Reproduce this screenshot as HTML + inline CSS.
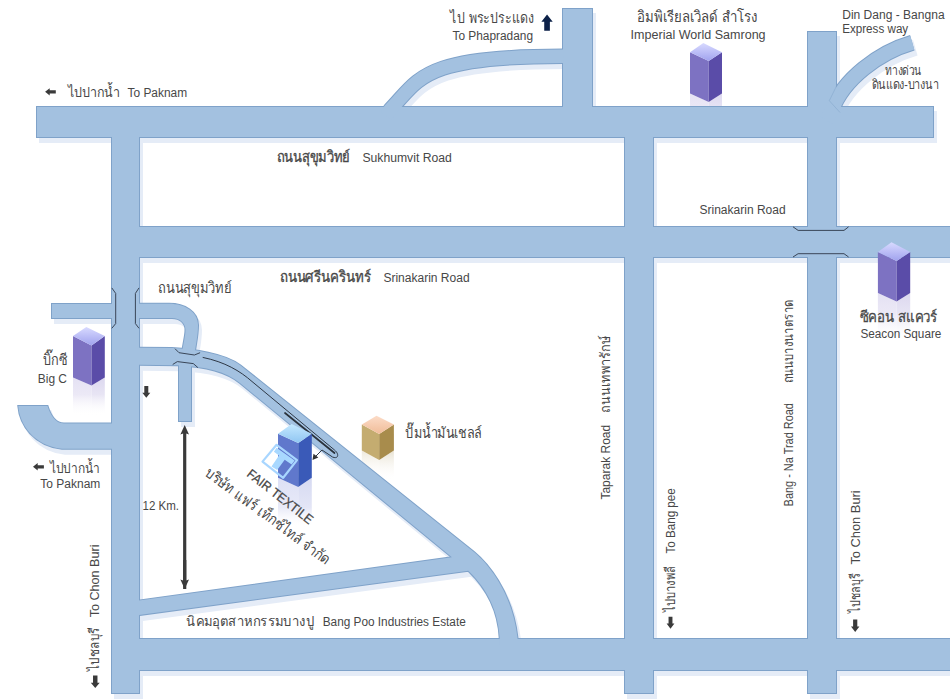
<!DOCTYPE html>
<html><head><meta charset="utf-8"><style>
html,body{margin:0;padding:0;background:#fff;overflow:hidden;}
svg{display:block;}
text{font-family:"Liberation Sans",sans-serif;fill:#474747;}
</style></head><body>
<svg width="950" height="700" viewBox="0 0 950 700">
<defs>
<linearGradient id="pt" x1="0" y1="0" x2="0" y2="1"><stop offset="0" stop-color="#d8daff"/><stop offset="1" stop-color="#a0a2ee"/></linearGradient>
<linearGradient id="pit" x1="0" y1="0" x2="0" y2="1"><stop offset="0" stop-color="#d8daff"/><stop offset="1" stop-color="#a0a2ee"/></linearGradient>
<linearGradient id="pr" x1="0" y1="0" x2="0" y2="1"><stop offset="0" stop-color="#e4e1f3"/><stop offset="0.45" stop-color="#ece9f6"/><stop offset="1" stop-color="#ffffff" stop-opacity="0"/></linearGradient>
<linearGradient id="pr2" x1="0" y1="0" x2="0" y2="1"><stop offset="0" stop-color="#dcd8ef"/><stop offset="0.45" stop-color="#e8e5f4"/><stop offset="1" stop-color="#ffffff" stop-opacity="0"/></linearGradient>
<linearGradient id="pir" x1="0" y1="0" x2="0" y2="1"><stop offset="0" stop-color="#e6e3f4"/><stop offset="1" stop-color="#ebe8f6"/></linearGradient>
<linearGradient id="pir2" x1="0" y1="0" x2="0" y2="1"><stop offset="0" stop-color="#dedaf0"/><stop offset="1" stop-color="#e6e3f4"/></linearGradient>
<linearGradient id="bt" x1="0" y1="0" x2="0" y2="1"><stop offset="0" stop-color="#c4e8ff"/><stop offset="1" stop-color="#90c6f2"/></linearGradient>
<linearGradient id="br" x1="0" y1="0" x2="0" y2="1"><stop offset="0" stop-color="#dde0f5"/><stop offset="0.6" stop-color="#e8eaf8"/><stop offset="1" stop-color="#ffffff" stop-opacity="0"/></linearGradient>
<linearGradient id="br2" x1="0" y1="0" x2="0" y2="1"><stop offset="0" stop-color="#d6daf2"/><stop offset="0.6" stop-color="#e4e6f6"/><stop offset="1" stop-color="#ffffff" stop-opacity="0"/></linearGradient>
<linearGradient id="st" x1="0" y1="0" x2="0" y2="1"><stop offset="0" stop-color="#fcdcc8"/><stop offset="1" stop-color="#f0bc98"/></linearGradient>
<linearGradient id="sr" x1="0" y1="0" x2="0" y2="1"><stop offset="0" stop-color="#eee9dc"/><stop offset="1" stop-color="#ffffff" stop-opacity="0"/></linearGradient>
<linearGradient id="sr2" x1="0" y1="0" x2="0" y2="1"><stop offset="0" stop-color="#e8e2d2"/><stop offset="1" stop-color="#ffffff" stop-opacity="0"/></linearGradient>
</defs>
<path d="M690 93.5 L708.7 102 L708.7 107.5 L690 107.5 Z" fill="url(#pir)"/><path d="M708.7 102 L722 93.5 L722 107.5 L708.7 107.5 Z" fill="url(#pir2)"/><path d="M73 377.6 L91.5 385.5 L91.5 415.6 L73 415.6 Z" fill="url(#pr)"/><path d="M91.5 385.5 L104.8 377.6 L104.8 415.6 L91.5 415.6 Z" fill="url(#pr2)"/><path d="M877.9 292.9 L896.6 301.5 L896.6 340.9 L877.9 340.9 Z" fill="url(#pr)"/><path d="M896.6 301.5 L910.2 292.9 L910.2 340.9 L896.6 340.9 Z" fill="url(#pr2)"/><path d="M278 477.7 L298.2 486.9 L298.2 527.7 L278 527.7 Z" fill="url(#br)"/><path d="M298.2 486.9 L311.8 477.7 L311.8 527.7 L298.2 527.7 Z" fill="url(#br2)"/><path d="M361.8 450.5 L379.2 460 L379.2 480.5 L361.8 480.5 Z" fill="url(#sr)"/><path d="M379.2 460 L393.9 450.5 L393.9 480.5 L379.2 480.5 Z" fill="url(#sr2)"/>
<g transform="translate(3,5)" fill="#e5ecf7"><rect x="37" y="107" width="896" height="30" fill="#e5ecf7" stroke="#e5ecf7" stroke-width="2"/>
<rect x="112" y="107" width="27" height="586" fill="#e5ecf7" stroke="#e5ecf7" stroke-width="2"/>
<rect x="625" y="107" width="28" height="586" fill="#e5ecf7" stroke="#e5ecf7" stroke-width="2"/>
<rect x="808" y="32" width="28" height="661" fill="#e5ecf7" stroke="#e5ecf7" stroke-width="2"/>
<rect x="563" y="9" width="29" height="98" fill="#e5ecf7" stroke="#e5ecf7" stroke-width="2"/>
<rect x="112" y="227" width="840" height="30" fill="#e5ecf7" stroke="#e5ecf7" stroke-width="2"/>
<rect x="112" y="639" width="840" height="31" fill="#e5ecf7" stroke="#e5ecf7" stroke-width="2"/>
<path d="M386 115.8 L390.4 109.3 C419.7 79.2 420.9 56.1 564 56.3" fill="none" stroke="#e5ecf7" stroke-width="15.4"/>
<path d="M826 120 L832 110 C843.14 79.26 878.83 52.54 912.3 42.8" fill="none" stroke="#e5ecf7" stroke-width="16"/>
<path d="M139 347.7 L172 348 C192 349 225.5 353.5 240.5 365.5 L474.3 552.3 C486 562 512 590 517.5 638 L517.5 645 L499.7 645 L499.7 638 C498 605 482 584 468.3 570.8 L139 615 L139 600.6 L451.9 557.3 L240 383 C226 371.5 205 366.5 177.3 365.3 L139 364.7 Z" fill="#e5ecf7" stroke="#e5ecf7" stroke-width="2"/>
<rect x="52" y="304" width="61" height="14" fill="#e5ecf7" stroke="#e5ecf7" stroke-width="2"/>
<path d="M138 303.7 L169 303.7 C185 303.7 198 312 198 325 C198 335 196 343 194.5 354 L181.9 354 C183.5 342 185.5 336 185.5 330 C185.5 323 180 318 172 318 L138 318 Z" fill="#e5ecf7" stroke="#e5ecf7" stroke-width="2"/>
<rect x="179" y="360" width="12" height="61" fill="#e5ecf7" stroke="#e5ecf7" stroke-width="2"/>
<path d="M18.3 406 L47.5 406 C50 414 55 423.5 64 423.5 L113 423.5 L113 448.8 L62 448.8 C34 445.6 19.8 425 18.3 406 Z" fill="#e5ecf7" stroke="#e5ecf7" stroke-width="2"/></g>
<g><rect x="37" y="107" width="896" height="30" fill="#7fa2c9" stroke="#7fa2c9" stroke-width="2"/>
<rect x="112" y="107" width="27" height="586" fill="#7fa2c9" stroke="#7fa2c9" stroke-width="2"/>
<rect x="625" y="107" width="28" height="586" fill="#7fa2c9" stroke="#7fa2c9" stroke-width="2"/>
<rect x="808" y="32" width="28" height="661" fill="#7fa2c9" stroke="#7fa2c9" stroke-width="2"/>
<rect x="563" y="9" width="29" height="98" fill="#7fa2c9" stroke="#7fa2c9" stroke-width="2"/>
<rect x="112" y="227" width="840" height="30" fill="#7fa2c9" stroke="#7fa2c9" stroke-width="2"/>
<rect x="112" y="639" width="840" height="31" fill="#7fa2c9" stroke="#7fa2c9" stroke-width="2"/>
<path d="M386 115.8 L390.4 109.3 C419.7 79.2 420.9 56.1 564 56.3" fill="none" stroke="#7fa2c9" stroke-width="15.4"/>
<path d="M826 120 L832 110 C843.14 79.26 878.83 52.54 912.3 42.8" fill="none" stroke="#7fa2c9" stroke-width="16"/>
<path d="M139 347.7 L172 348 C192 349 225.5 353.5 240.5 365.5 L474.3 552.3 C486 562 512 590 517.5 638 L517.5 645 L499.7 645 L499.7 638 C498 605 482 584 468.3 570.8 L139 615 L139 600.6 L451.9 557.3 L240 383 C226 371.5 205 366.5 177.3 365.3 L139 364.7 Z" fill="#7fa2c9" stroke="#7fa2c9" stroke-width="2"/>
<rect x="52" y="304" width="61" height="14" fill="#7fa2c9" stroke="#7fa2c9" stroke-width="2"/>
<path d="M138 303.7 L169 303.7 C185 303.7 198 312 198 325 C198 335 196 343 194.5 354 L181.9 354 C183.5 342 185.5 336 185.5 330 C185.5 323 180 318 172 318 L138 318 Z" fill="#7fa2c9" stroke="#7fa2c9" stroke-width="2"/>
<rect x="179" y="360" width="12" height="61" fill="#7fa2c9" stroke="#7fa2c9" stroke-width="2"/>
<path d="M18.3 406 L47.5 406 C50 414 55 423.5 64 423.5 L113 423.5 L113 448.8 L62 448.8 C34 445.6 19.8 425 18.3 406 Z" fill="#7fa2c9" stroke="#7fa2c9" stroke-width="2"/></g>
<g fill="#a3c1e0"><rect x="37" y="107" width="896" height="30"/>
<rect x="112" y="107" width="27" height="586"/>
<rect x="625" y="107" width="28" height="586"/>
<rect x="808" y="32" width="28" height="661"/>
<rect x="563" y="9" width="29" height="98"/>
<rect x="112" y="227" width="840" height="30"/>
<rect x="112" y="639" width="840" height="31"/>
<path d="M386 115.8 L390.4 109.3 C419.7 79.2 420.9 56.1 564 56.3" fill="none" stroke="#a3c1e0" stroke-width="13.4"/>
<path d="M826 120 L832 110 C843.14 79.26 878.83 52.54 912.3 42.8" fill="none" stroke="#a3c1e0" stroke-width="14"/>
<path d="M139 347.7 L172 348 C192 349 225.5 353.5 240.5 365.5 L474.3 552.3 C486 562 512 590 517.5 638 L517.5 645 L499.7 645 L499.7 638 C498 605 482 584 468.3 570.8 L139 615 L139 600.6 L451.9 557.3 L240 383 C226 371.5 205 366.5 177.3 365.3 L139 364.7 Z"/>
<rect x="52" y="304" width="61" height="14"/>
<path d="M138 303.7 L169 303.7 C185 303.7 198 312 198 325 C198 335 196 343 194.5 354 L181.9 354 C183.5 342 185.5 336 185.5 330 C185.5 323 180 318 172 318 L138 318 Z"/>
<rect x="179" y="360" width="12" height="61"/>
<path d="M18.3 406 L47.5 406 C50 414 55 423.5 64 423.5 L113 423.5 L113 448.8 L62 448.8 C34 445.6 19.8 425 18.3 406 Z"/></g>
<g fill="none" stroke="#3a4658" stroke-width="1">
<path d="M111.8 287.9 L115.7 293.4 L115.7 323.6 L111.8 328.3"/>
<path d="M139 287.9 L135.4 293.4 L135.4 323.6 L139 328.3"/>
<path d="M175 348.7 L179 352.7 L194.4 355 L200.1 352.7"/>
<path d="M172.7 364.5 L177.3 361.6 L193.3 363.6 L197.9 367.6"/>
<path d="M793 226.8 L798.1 230.4 L844 230.4 L848.6 226.8"/>
<path d="M793 257 L798.1 253.7 L844 253.7 L848.6 257"/>
</g>
<path d="M202.7 357.4 C225 362 240 371 252 381.5 L334.5 450 C339.5 454 338.5 459.5 332.5 457 L322 450 L314 458" fill="none" stroke="#2e3846" stroke-width="1"/>
<path d="M836.8 85.4 L829.3 100.7 L840 112.5" fill="none" stroke="#7fa2c9" stroke-opacity="0.6" stroke-width="0.8"/>
<path d="M285 413 L334.5 453" fill="none" stroke="#2a323c" stroke-width="1.7" stroke-linecap="round"/>
<path d="M312.5 460 L313.5 453.8 L318.3 457.6 Z" fill="#333"/>
<g>
<path d="M690 52.3 L708.7 61 L708.7 102 L690 93.5 Z" fill="#7d72c2"/>
<path d="M708.7 61 L722 52.3 L722 93.5 L708.7 102 Z" fill="#5a4ca8"/>
<path d="M690 52.3 L703.3 43 L722 52.3 L708.7 61 Z" fill="url(#pit)"/>
</g><g>
<path d="M73 336 L91.5 345.4 L91.5 385.5 L73 377.6 Z" fill="#7d72c2"/>
<path d="M91.5 345.4 L104.8 336 L104.8 377.6 L91.5 385.5 Z" fill="#5a4ca8"/>
<path d="M73 336 L86.3 327 L104.8 336 L91.5 345.4 Z" fill="url(#pt)"/>
</g><g>
<path d="M877.9 252 L896.6 261 L896.6 301.5 L877.9 292.9 Z" fill="#7d72c2"/>
<path d="M896.6 261 L910.2 252 L910.2 292.9 L896.6 301.5 Z" fill="#5a4ca8"/>
<path d="M877.9 252 L891.5 242.3 L910.2 252 L896.6 261 Z" fill="url(#pt)"/>
</g><g>
<path d="M278 433.7 L298.2 442.9 L298.2 486.9 L278 477.7 Z" fill="#6078cc"/>
<path d="M298.2 442.9 L311.8 433.7 L311.8 477.7 L298.2 486.9 Z" fill="#3a5ab8"/>
<path d="M278 433.7 L291.6 424 L311.8 433.7 L298.2 442.9 Z" fill="url(#bt)"/>
</g><g>
<path d="M361.8 424.5 L379.2 434 L379.2 460 L361.8 450.5 Z" fill="#c4ac70"/>
<path d="M379.2 434 L393.9 424.5 L393.9 450.5 L379.2 460 Z" fill="#a88c4c"/>
<path d="M361.8 424.5 L376.5 415.8 L393.9 424.5 L379.2 434 Z" fill="url(#st)"/>
</g>
<g fill="none" stroke="#a8d6ff" stroke-width="2.2" stroke-linejoin="round">
<path d="M262.5 461.6 L276.6 444.8 L297 460.1 L283.2 477.8 Z"/>
</g>
<path d="M273.9 451.7 L276.6 447.8 L294.6 460.4 L291.6 464.6 L284.7 459.8 L277.2 470 L271.5 466.4 L279 455.5 Z" fill="#a8d8ff"/>
<path d="M184.7 425 L189 434.5 L186.3 433.5 L186.3 589 L183.1 589 L183.1 433.5 L180.4 434.5 Z" fill="#3a3a3a"/>
<path d="M184.7 589 L180.4 579.5 L183.1 580.5 L183.1 560 L186.3 560 L186.3 580.5 L189 579.5 Z" fill="#3a3a3a"/>
<path d="M547.05 14.6 L541.4 21.684 L544.2249999999999 21.684 L544.2249999999999 30.7 L549.875 30.7 L549.875 21.684 L552.7 21.684 Z" fill="#0c2148"/><path d="M45.1 91.80000000000001 L49.701 88.2 L49.701 90.144 L55.8 90.144 L55.8 93.45600000000002 L49.701 93.45600000000002 L49.701 95.4 Z" fill="#3a3a3a"/><path d="M33 466.85 L37.687 463.1 L37.687 465.125 L43.9 465.125 L43.9 468.57500000000005 L37.687 468.57500000000005 L37.687 470.6 Z" fill="#3a3a3a"/><path d="M146.3 397.7 L142.3 392.669 L144.3 392.669 L144.3 386 L148.3 386 L148.3 392.669 L150.3 392.669 Z" fill="#3a3a3a"/><path d="M95.25 688 L90.8 682.625 L93.025 682.625 L93.025 675.5 L97.475 675.5 L97.475 682.625 L99.7 682.625 Z" fill="#3a3a3a"/><path d="M670.5 628.8 L666.6 623.597 L668.55 623.597 L668.55 616.7 L672.45 616.7 L672.45 623.597 L674.4 623.597 Z" fill="#3a3a3a"/><path d="M855.2 632 L851 626.582 L853.1 626.582 L853.1 619.4 L857.3000000000001 619.4 L857.3000000000001 626.582 L859.4 626.582 Z" fill="#3a3a3a"/>
<text x="450.3" y="23.3" font-size="15" textLength="83.5" lengthAdjust="spacingAndGlyphs">ไป พระประแดง</text><text x="452.5" y="39.7" font-size="12" textLength="80.5" lengthAdjust="spacingAndGlyphs">To Phapradang</text><text x="637" y="22.3" font-size="15" textLength="120" lengthAdjust="spacingAndGlyphs">อิมพิเรียลเวิลด์ สำโรง</text><text x="630.6" y="39" font-size="12.5" textLength="135" lengthAdjust="spacingAndGlyphs">Imperial World Samrong</text><text x="842.2" y="18.9" font-size="12" textLength="102.4" lengthAdjust="spacingAndGlyphs">Din Dang - Bangna</text><text x="842.2" y="33" font-size="12" textLength="66" lengthAdjust="spacingAndGlyphs">Express way</text><text x="885" y="75" font-size="13" textLength="36.5" lengthAdjust="spacingAndGlyphs">ทางด่วน</text><text x="871.7" y="89" font-size="13" textLength="67" lengthAdjust="spacingAndGlyphs">ดินแดง-บางนา</text><text x="67.6" y="96.8" font-size="14" textLength="52.8" lengthAdjust="spacingAndGlyphs">ไปปากน้ำ</text><text x="127.5" y="96.8" font-size="12" textLength="59.6" lengthAdjust="spacingAndGlyphs">To Paknam</text><text x="276.7" y="162" font-size="15" textLength="73.6" lengthAdjust="spacingAndGlyphs" stroke="#474747" stroke-width="0.35">ถนนสุขุมวิทย์</text><text x="362.4" y="162" font-size="12" textLength="89.4" lengthAdjust="spacingAndGlyphs">Sukhumvit Road</text><text x="699.5" y="214.3" font-size="12" textLength="86.1" lengthAdjust="spacingAndGlyphs">Srinakarin Road</text><text x="279.7" y="282.4" font-size="15" textLength="91.3" lengthAdjust="spacingAndGlyphs" stroke="#474747" stroke-width="0.35">ถนนศรีนครินทร์</text><text x="383.4" y="282.4" font-size="12" textLength="86.2" lengthAdjust="spacingAndGlyphs">Srinakarin Road</text><text x="158.4" y="292.7" font-size="15" textLength="73.3" lengthAdjust="spacingAndGlyphs">ถนนสุขุมวิทย์</text><text x="42.5" y="364.5" font-size="15" textLength="24.5" lengthAdjust="spacingAndGlyphs">บิ๊กซี</text><text x="37.8" y="382.5" font-size="12" textLength="29.2" lengthAdjust="spacingAndGlyphs">Big C</text><text x="859.6" y="322" font-size="15" textLength="77.9" lengthAdjust="spacingAndGlyphs" stroke="#474747" stroke-width="0.3">ซีคอน สแควร์</text><text x="860.4" y="337.7" font-size="12" textLength="81" lengthAdjust="spacingAndGlyphs">Seacon Square</text><text x="405.3" y="438" font-size="15" textLength="76.7" lengthAdjust="spacingAndGlyphs">ปั๊มน้ำมันเชลล์</text><text x="49.7" y="472.6" font-size="14" textLength="50.3" lengthAdjust="spacingAndGlyphs">ไปปากน้ำ</text><text x="40.3" y="487.7" font-size="12" textLength="60" lengthAdjust="spacingAndGlyphs">To Paknam</text><text x="142.5" y="509.8" font-size="12" textLength="36.5" lengthAdjust="spacingAndGlyphs">12 Km.</text><text x="186.3" y="625.5" font-size="14" textLength="127.9" lengthAdjust="spacingAndGlyphs">นิคมอุตสาหกรรมบางปู</text><text x="322.7" y="625.5" font-size="12" textLength="143.1" lengthAdjust="spacingAndGlyphs">Bang Poo Industries Estate</text><text transform="translate(610 499.6) rotate(-90)" x="0" y="0" font-size="12" textLength="74.8" lengthAdjust="spacingAndGlyphs">Taparak Road</text><text transform="translate(610 412.5) rotate(-90)" x="0" y="0" font-size="14" textLength="76.2" lengthAdjust="spacingAndGlyphs">ถนนเทพารักษ์</text><text transform="translate(674.9 611.8) rotate(-90)" x="0" y="0" font-size="14" textLength="46" lengthAdjust="spacingAndGlyphs">ไปบางพลี</text><text transform="translate(674.9 553.6) rotate(-90)" x="0" y="0" font-size="12" textLength="65.4" lengthAdjust="spacingAndGlyphs">To Bang pee</text><text transform="translate(793 506.4) rotate(-90)" x="0" y="0" font-size="12" textLength="103.3" lengthAdjust="spacingAndGlyphs">Bang - Na Trad Road</text><text transform="translate(793 383.4) rotate(-90)" x="0" y="0" font-size="14" textLength="83.6" lengthAdjust="spacingAndGlyphs">ถนนบางนาตราด</text><text transform="translate(860.1 612.6) rotate(-90)" x="0" y="0" font-size="14" textLength="40" lengthAdjust="spacingAndGlyphs">ไปชลบุรี</text><text transform="translate(860.1 564.6) rotate(-90)" x="0" y="0" font-size="12" textLength="74.3" lengthAdjust="spacingAndGlyphs">To Chon Buri</text><text transform="translate(99.2 670.6) rotate(-90)" x="0" y="0" font-size="14" textLength="43.6" lengthAdjust="spacingAndGlyphs">ไปชลบุรี</text><text transform="translate(99.2 617.3) rotate(-90)" x="0" y="0" font-size="12" textLength="72.8" lengthAdjust="spacingAndGlyphs">To Chon Buri</text><text transform="translate(246 475.5) rotate(38)" x="0" y="0" font-size="13" textLength="80" lengthAdjust="spacingAndGlyphs" stroke="#474747" stroke-width="0.25">FAIR TEXTILE</text><text transform="translate(204 475) rotate(36.5)" x="0" y="0" font-size="15" textLength="152" lengthAdjust="spacingAndGlyphs">บริษัท แฟร์ เท็กซ์ไทล์ จำกัด</text>
</svg>
</body></html>
